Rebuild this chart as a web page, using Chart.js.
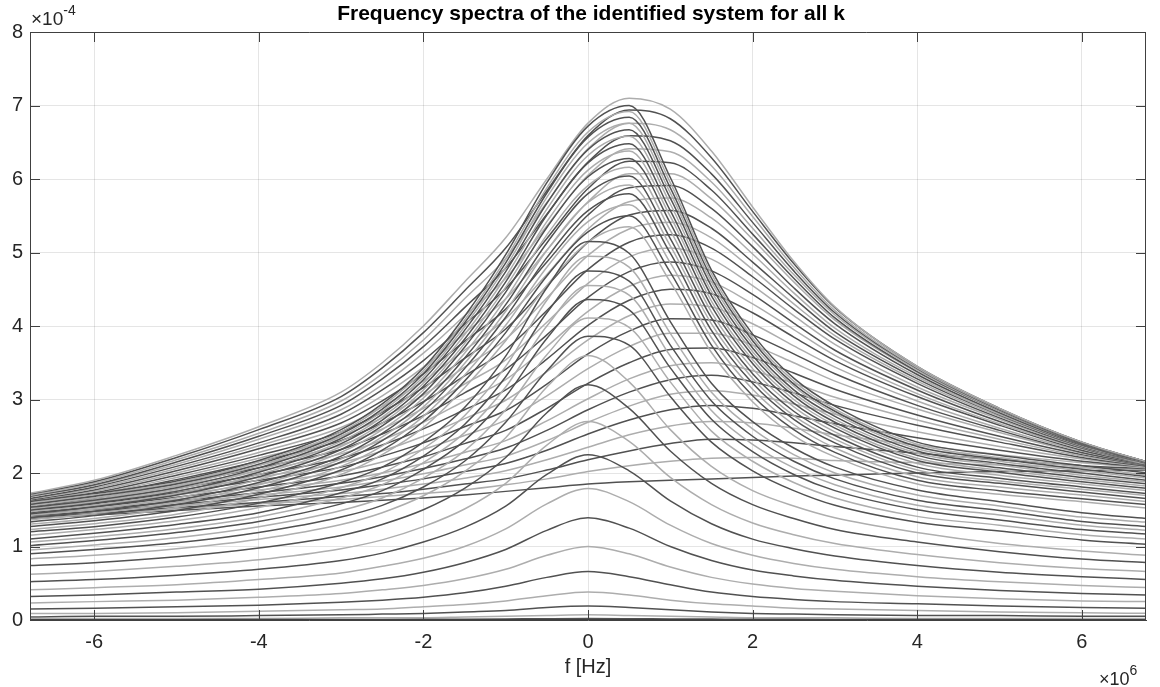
<!DOCTYPE html>
<html>
<head>
<meta charset="utf-8">
<title>Frequency spectra</title>
<script src="https://cdn.jsdelivr.net/npm/chart.js"></script>
<style>
  html, body { margin: 0; padding: 0; background: #fff; }
  #wrap { width: 1160px; height: 687px; }
</style>
</head>
<body>
<div id="wrap"><canvas id="spectra" width="1160" height="687"></canvas></div>
<script>
// frequency grid (x 1e6 Hz)
const freqs = [-6.8, -6, -5, -4, -3, -2.5, -2, -1.5, -1, -0.5, 0, 0.5, 1, 1.5, 2, 2.5, 3, 4, 5, 6, 6.8];

const xTicks = [-6, -4, -2, 0, 2, 4, 6];
const yTicks = [0, 1, 2, 3, 4, 5, 6, 7, 8];

// spectra with a narrow peak near 0 Hz (x 1e-4)
const peakedSpectra = [
  [0.005,0.005,0.005,0.006,0.007,0.008,0.009,0.011,0.014,0.018,0.02,0.018,0.014,0.012,0.01,0.009,0.008,0.007,0.006,0.005,0.005],
  [0.02,0.02,0.02,0.02,0.03,0.03,0.03,0.04,0.05,0.06,0.07,0.06,0.05,0.04,0.03,0.03,0.03,0.02,0.02,0.02,0.02],
  [0.04,0.05,0.05,0.06,0.07,0.08,0.09,0.11,0.13,0.17,0.19,0.17,0.14,0.11,0.09,0.08,0.07,0.06,0.06,0.05,0.05],
  [0.09,0.09,0.10,0.12,0.14,0.15,0.18,0.21,0.26,0.33,0.38,0.34,0.27,0.22,0.19,0.16,0.15,0.13,0.11,0.10,0.09],
  [0.15,0.16,0.18,0.20,0.24,0.27,0.31,0.37,0.46,0.58,0.66,0.59,0.48,0.38,0.32,0.28,0.25,0.22,0.19,0.17,0.16],
  [0.23,0.25,0.27,0.31,0.36,0.41,0.47,0.56,0.69,0.88,1.00,0.90,0.72,0.58,0.49,0.43,0.39,0.33,0.29,0.26,0.25],
  [0.32,0.34,0.38,0.42,0.50,0.56,0.65,0.78,0.96,1.22,1.39,1.25,1.00,0.81,0.68,0.60,0.54,0.46,0.40,0.36,0.34],
  [0.41,0.44,0.48,0.55,0.64,0.73,0.84,1.00,1.24,1.58,1.79,1.61,1.29,1.04,0.88,0.77,0.69,0.59,0.52,0.47,0.44],
  [0.52,0.55,0.61,0.69,0.81,0.91,1.06,1.26,1.55,1.98,2.25,2.03,1.62,1.31,1.10,0.97,0.87,0.74,0.65,0.59,0.55],
  [0.62,0.66,0.73,0.82,0.97,1.09,1.27,1.51,1.86,2.38,2.70,2.43,1.94,1.57,1.32,1.16,1.04,0.89,0.78,0.70,0.66],
  [0.74,0.78,0.86,0.98,1.15,1.30,1.50,1.79,2.21,2.82,3.20,2.88,2.30,1.86,1.57,1.38,1.23,1.06,0.93,0.83,0.78],
  [0.83,0.88,0.97,1.10,1.30,1.46,1.69,2.02,2.48,3.17,3.60,3.24,2.59,2.09,1.76,1.55,1.39,1.19,1.04,0.94,0.88],
  [0.90,0.96,1.05,1.19,1.40,1.56,1.81,2.16,2.69,3.39,3.86,3.74,3.04,2.42,2.03,1.76,1.56,1.33,1.21,1.09,1.03],
  [0.95,1.02,1.12,1.27,1.49,1.66,1.93,2.30,2.86,3.61,4.11,3.98,3.24,2.57,2.16,1.87,1.66,1.41,1.29,1.16,1.10],
  [1.01,1.08,1.19,1.34,1.58,1.76,2.05,2.44,3.04,3.83,4.36,4.22,3.43,2.73,2.29,1.98,1.76,1.50,1.36,1.23,1.17],
  [1.06,1.13,1.24,1.40,1.66,1.84,2.14,2.55,3.17,4.00,4.55,4.42,3.59,2.85,2.39,2.07,1.84,1.56,1.43,1.29,1.22],
  [1.10,1.18,1.30,1.46,1.73,1.92,2.23,2.66,3.31,4.18,4.75,4.61,3.74,2.98,2.50,2.16,1.92,1.63,1.49,1.34,1.27],
  [1.15,1.23,1.35,1.53,1.80,2.00,2.33,2.78,3.45,4.35,4.95,4.80,3.90,3.10,2.60,2.25,2.00,1.70,1.55,1.40,1.33],
  [1.20,1.27,1.40,1.59,1.87,2.08,2.42,2.89,3.59,4.52,5.15,4.99,4.06,3.22,2.70,2.34,2.08,1.77,1.61,1.46,1.38],
  [1.23,1.31,1.44,1.66,1.98,2.25,2.62,3.16,3.80,4.55,5.14,5.35,4.60,3.64,2.97,2.51,2.22,1.85,1.71,1.61,1.52],
  [1.27,1.35,1.49,1.71,2.04,2.31,2.70,3.25,3.91,4.68,5.28,5.50,4.73,3.74,3.05,2.59,2.28,1.90,1.76,1.65,1.57],
  [1.30,1.38,1.53,1.75,2.09,2.37,2.77,3.33,4.01,4.80,5.42,5.65,4.86,3.84,3.14,2.66,2.34,1.95,1.81,1.70,1.61],
  [1.33,1.42,1.57,1.80,2.15,2.44,2.84,3.42,4.12,4.93,5.57,5.80,4.99,3.94,3.22,2.73,2.41,2.00,1.86,1.74,1.65],
  [1.36,1.45,1.60,1.84,2.19,2.49,2.90,3.49,4.20,5.03,5.68,5.92,5.09,4.03,3.29,2.78,2.46,2.04,1.89,1.78,1.69],
  [1.39,1.48,1.63,1.87,2.23,2.54,2.96,3.56,4.29,5.13,5.80,6.04,5.19,4.11,3.35,2.84,2.51,2.08,1.93,1.81,1.72],
  [1.42,1.51,1.66,1.91,2.28,2.59,3.02,3.63,4.37,5.24,5.91,6.16,5.30,4.19,3.42,2.90,2.56,2.13,1.97,1.85,1.76],
  [1.44,1.54,1.70,1.95,2.32,2.64,3.08,3.71,4.46,5.34,6.03,6.28,5.40,4.27,3.49,2.95,2.61,2.17,2.01,1.88,1.79],
  [1.47,1.56,1.72,1.98,2.36,2.68,3.13,3.76,4.53,5.42,6.12,6.38,5.49,4.34,3.54,3.00,2.65,2.20,2.04,1.91,1.82],
  [1.49,1.59,1.75,2.01,2.40,2.72,3.18,3.82,4.60,5.51,6.22,6.48,5.57,4.41,3.60,3.05,2.69,2.24,2.07,1.94,1.85],
  [1.51,1.61,1.78,2.04,2.43,2.76,3.22,3.88,4.67,5.59,6.32,6.58,5.66,4.47,3.65,3.09,2.73,2.27,2.11,1.97,1.88],
  [1.53,1.63,1.80,2.07,2.47,2.80,3.27,3.94,4.74,5.67,6.40,6.67,5.74,4.54,3.70,3.13,2.77,2.30,2.13,2.00,1.90],
  [1.55,1.66,1.83,2.10,2.50,2.84,3.31,3.99,4.80,5.75,6.49,6.76,5.81,4.60,3.75,3.18,2.81,2.33,2.16,2.03,1.93],
  [1.57,1.68,1.85,2.12,2.53,2.87,3.35,4.04,4.86,5.81,6.57,6.84,5.88,4.65,3.80,3.21,2.84,2.36,2.19,2.05,1.95],
  [1.59,1.70,1.87,2.15,2.56,2.91,3.39,4.08,4.91,5.88,6.64,6.92,5.95,4.71,3.84,3.25,2.87,2.39,2.21,2.08,1.97],
  [1.61,1.72,1.89,2.17,2.59,2.94,3.43,4.13,4.97,5.95,6.72,7.00,6.02,4.76,3.89,3.29,2.91,2.42,2.24,2.10,2.00]
];

// spectra whose broad maximum drifts towards higher f
const broadSpectra = [
  [1.72,1.90,2.24,2.63,3.10,3.50,4.00,4.60,5.20,6.00,6.76,7.10,6.95,6.38,5.62,4.88,4.26,3.45,2.88,2.42,2.15],
  [1.71,1.88,2.21,2.59,3.04,3.43,3.91,4.48,5.06,5.84,6.59,6.94,6.82,6.29,5.56,4.85,4.25,3.45,2.88,2.42,2.15],
  [1.69,1.86,2.18,2.54,2.98,3.35,3.81,4.37,4.92,5.68,6.41,6.76,6.67,6.18,5.49,4.80,4.21,3.43,2.87,2.42,2.15],
  [1.68,1.84,2.15,2.50,2.92,3.28,3.72,4.25,4.79,5.52,6.23,6.59,6.52,6.07,5.41,4.75,4.18,3.42,2.86,2.41,2.15],
  [1.67,1.83,2.12,2.46,2.86,3.20,3.63,4.14,4.65,5.36,6.05,6.41,6.37,5.96,5.33,4.70,4.15,3.40,2.85,2.41,2.15],
  [1.65,1.81,2.09,2.41,2.80,3.13,3.53,4.02,4.51,5.19,5.87,6.24,6.22,5.85,5.25,4.65,4.11,3.38,2.85,2.40,2.15],
  [1.64,1.79,2.06,2.37,2.74,3.05,3.44,3.90,4.37,5.03,5.69,6.07,6.07,5.73,5.18,4.60,4.08,3.37,2.84,2.40,2.15],
  [1.63,1.77,2.03,2.33,2.68,2.98,3.35,3.79,4.23,4.87,5.51,5.88,5.91,5.60,5.08,4.52,4.03,3.34,2.82,2.39,2.14],
  [1.61,1.75,2.00,2.28,2.62,2.90,3.25,3.67,4.10,4.70,5.32,5.69,5.74,5.47,4.98,4.45,3.97,3.31,2.80,2.39,2.14],
  [1.60,1.73,1.97,2.24,2.56,2.83,3.16,3.56,3.96,4.54,5.14,5.51,5.57,5.33,4.87,4.38,3.92,3.28,2.79,2.38,2.14],
  [1.58,1.71,1.94,2.20,2.50,2.75,3.06,3.44,3.82,4.38,4.96,5.32,5.41,5.20,4.77,4.30,3.87,3.25,2.77,2.37,2.14],
  [1.57,1.69,1.91,2.16,2.44,2.68,2.97,3.32,3.68,4.21,4.77,5.14,5.24,5.06,4.67,4.23,3.82,3.22,2.75,2.36,2.13],
  [1.56,1.67,1.88,2.11,2.38,2.60,2.88,3.21,3.54,4.05,4.58,4.94,5.06,4.91,4.55,4.14,3.75,3.17,2.73,2.35,2.13],
  [1.54,1.66,1.85,2.07,2.32,2.53,2.78,3.09,3.41,3.88,4.39,4.74,4.87,4.75,4.43,4.04,3.67,3.13,2.70,2.34,2.13],
  [1.53,1.64,1.82,2.03,2.26,2.45,2.69,2.98,3.27,3.72,4.20,4.54,4.69,4.60,4.30,3.95,3.60,3.08,2.67,2.33,2.12],
  [1.52,1.62,1.79,1.98,2.20,2.38,2.60,2.86,3.13,3.55,4.01,4.35,4.50,4.44,4.18,3.85,3.53,3.04,2.65,2.31,2.12],
  [1.50,1.60,1.76,1.94,2.14,2.30,2.50,2.74,2.99,3.38,3.81,4.14,4.30,4.26,4.03,3.73,3.44,2.98,2.61,2.30,2.12],
  [1.49,1.58,1.73,1.90,2.08,2.23,2.41,2.63,2.85,3.21,3.62,3.93,4.10,4.08,3.88,3.62,3.35,2.92,2.58,2.28,2.11],
  [1.48,1.56,1.70,1.85,2.02,2.15,2.32,2.51,2.72,3.05,3.42,3.72,3.90,3.90,3.74,3.50,3.25,2.87,2.55,2.27,2.11],
  [1.46,1.54,1.67,1.81,1.96,2.08,2.22,2.40,2.58,2.88,3.22,3.50,3.68,3.70,3.57,3.36,3.14,2.79,2.50,2.25,2.10],
  [1.45,1.52,1.64,1.77,1.90,2.00,2.13,2.28,2.44,2.71,3.01,3.28,3.46,3.50,3.39,3.22,3.03,2.72,2.46,2.23,2.10],
  [1.44,1.51,1.62,1.73,1.86,1.95,2.06,2.19,2.34,2.58,2.86,3.10,3.27,3.33,3.24,3.09,2.92,2.65,2.42,2.21,2.09],
  [1.43,1.50,1.60,1.70,1.81,1.89,1.99,2.11,2.23,2.44,2.69,2.91,3.07,3.12,3.06,2.94,2.80,2.56,2.36,2.19,2.08],
  [1.42,1.48,1.57,1.67,1.77,1.84,1.92,2.02,2.13,2.31,2.53,2.72,2.86,2.92,2.88,2.78,2.67,2.48,2.31,2.16,2.08],
  [1.41,1.47,1.55,1.64,1.72,1.78,1.85,1.93,2.03,2.18,2.35,2.52,2.64,2.70,2.68,2.61,2.52,2.38,2.25,2.14,2.07],
  [1.40,1.45,1.53,1.60,1.68,1.72,1.78,1.85,1.92,2.04,2.18,2.30,2.40,2.46,2.45,2.41,2.36,2.27,2.18,2.10,2.06],
  [1.39,1.44,1.51,1.58,1.64,1.68,1.72,1.77,1.84,1.92,2.02,2.10,2.16,2.20,2.21,2.20,2.17,2.14,2.11,2.07,2.05],
  [1.38,1.43,1.49,1.55,1.60,1.63,1.66,1.70,1.75,1.80,1.85,1.88,1.90,1.92,1.94,1.96,1.97,2.00,2.02,2.03,2.04]
];

const FONT = '"Liberation Sans", Arial, Helvetica, sans-serif';
const TEXT = '#262626';
const AXIS = '#404040';
const GRID = 'rgba(38,38,38,0.12)';
const DARK = '#515151';
const LIGHT = '#adadad';

function toPoints(row) {
  return freqs.map((f, j) => ({ x: f, y: row[j] }));
}

const datasets = [];
peakedSpectra.forEach((row, i) => {
  datasets.push({ data: toPoints(row), borderColor: i % 2 ? LIGHT : DARK });
});
broadSpectra.forEach((row, i) => {
  datasets.push({ data: toPoints(row), borderColor: i % 2 ? DARK : LIGHT });
});

// box, inward ticks, title and exponent labels in the style of the original
const frame = {
  id: 'frame',
  afterDraw(chart) {
    const { ctx, chartArea: a, scales } = chart;
    ctx.save();
    ctx.strokeStyle = AXIS;
    ctx.lineWidth = 1;
    ctx.beginPath();
    ctx.rect(a.left + 0.5, a.top + 0.5, a.right - a.left - 1, a.bottom - a.top - 1);
    ctx.stroke();

    const len = 10;
    ctx.beginPath();
    xTicks.forEach(v => {
      const px = Math.round(scales.x.getPixelForValue(v)) + 0.5;
      ctx.moveTo(px, a.bottom); ctx.lineTo(px, a.bottom - len);
      ctx.moveTo(px, a.top); ctx.lineTo(px, a.top + len);
    });
    yTicks.forEach(v => {
      const py = Math.round(scales.y.getPixelForValue(v)) + 0.5;
      ctx.moveTo(a.left, py); ctx.lineTo(a.left + len, py);
      ctx.moveTo(a.right, py); ctx.lineTo(a.right - len, py);
    });
    ctx.stroke();

    ctx.fillStyle = '#000';
    ctx.textAlign = 'center';
    ctx.textBaseline = 'middle';
    ctx.font = 'bold 21px ' + FONT;
    ctx.fillText('Frequency spectra of the identified system for all k', 591, 14);

    ctx.fillStyle = TEXT;
    ctx.font = '20px ' + FONT;
    ctx.fillText('f [Hz]', 588, 667);

    ctx.textAlign = 'left';
    ctx.textBaseline = 'alphabetic';
    ctx.font = '19px ' + FONT;
    let w = ctx.measureText('\u00d710').width;
    ctx.fillText('\u00d710', 31, 25);
    ctx.font = '14px ' + FONT;
    ctx.fillText('-4', 31 + w, 15);

    ctx.font = '18px ' + FONT;
    w = ctx.measureText('\u00d710').width;
    ctx.fillText('\u00d710', 1099, 685);
    ctx.font = '14px ' + FONT;
    ctx.fillText('6', 1099 + w, 675);
    ctx.restore();
  }
};

new Chart(document.getElementById('spectra'), {
  type: 'line',
  data: { datasets },
  plugins: [frame],
  options: {
    responsive: false,
    animation: false,
    devicePixelRatio: 1,
    layout: { padding: { top: 32, right: 14, left: 0, bottom: 0 } },
    plugins: {
      legend: { display: false },
      tooltip: { enabled: false },
      title: { display: false }
    },
    elements: {
      point: { radius: 0 },
      line: { borderWidth: 1.5, cubicInterpolationMode: 'monotone', fill: false }
    },
    scales: {
      x: {
        type: 'linear',
        min: -6.78,
        max: 6.78,
        afterBuildTicks: s => { s.ticks = xTicks.map(v => ({ value: v })); },
        afterFit: s => { s.height = 67; },
        grid: { color: GRID, drawTicks: false },
        border: { color: AXIS },
        ticks: { padding: 10, color: TEXT, font: { family: FONT, size: 20 } }
      },
      y: {
        type: 'linear',
        min: 0,
        max: 8,
        afterBuildTicks: s => { s.ticks = yTicks.map(v => ({ value: v })); },
        afterFit: s => { s.width = 30; },
        grid: { color: GRID, drawTicks: false },
        border: { color: AXIS },
        ticks: { padding: 7, color: TEXT, font: { family: FONT, size: 20 } }
      }
    }
  }
});
</script>
</body>
</html>
